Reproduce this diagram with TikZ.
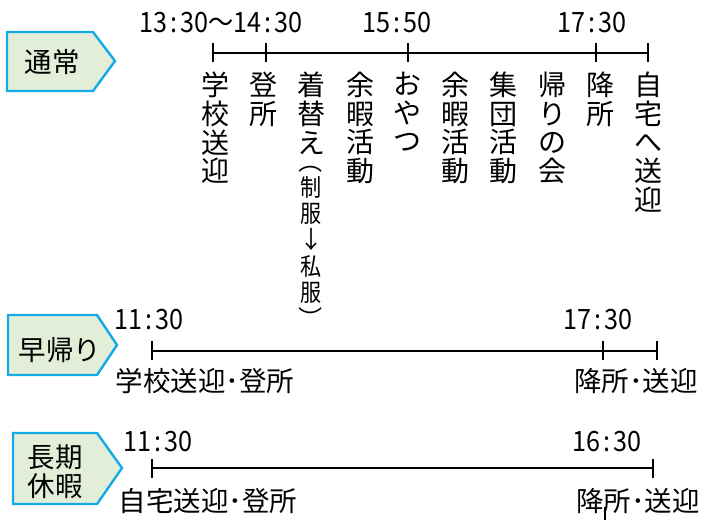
\documentclass[tikz,border=0pt]{standalone}
\usepackage{fontspec}
\setmainfont{Noto Sans CJK JP}
\usepackage{graphicx}
\definecolor{tabfill}{RGB}{226,238,216}
\definecolor{tabline}{RGB}{20,170,230}
\tikzset{
  tabshape/.style={draw=tabline, fill=tabfill, line width=2.4pt, line join=miter},
  tabtxt/.style={inner sep=0pt, font=\fontsize{27.5}{29}\selectfont},
  tline/.style={line width=2.8pt},
  vt/.style={anchor=north, inner sep=0pt, align=center, font=\fontsize{28}{28.6}\selectfont},
  vts/.style={anchor=north, inner sep=0pt, align=center, font=\fontsize{24}{26.2}\selectfont},
  tm/.style={inner sep=0pt, font=\fontsize{28}{30}\selectfont},
  hl/.style={inner sep=0pt, font=\fontsize{27.5}{30}\selectfont},
}
\newcommand{\cl}{\hspace{3.5pt}:\hspace{3.5pt}}
\newcommand{\tms}[1]{\scalebox{0.9}[1]{#1}}
\newcommand{\ns}[1]{\scalebox{0.88}[1]{#1}}
\begin{document}
\begin{tikzpicture}[x=1pt,y=-1pt]
\useasboundingbox (0,0) rectangle (704,520);
% tabs
\draw[tabshape] (7,32) -- (93,32) -- (115,61) -- (93,91) -- (7,91) -- cycle;
\draw[tabshape] (8,315) -- (97,315) -- (117,345) -- (97,375) -- (8,375) -- cycle;
\draw[tabshape] (13,433) -- (97,433) -- (122,468) -- (97,504) -- (13,504) -- cycle;
\node[tabtxt] (n1) at (52,62) {通常};
\node[tabtxt] (n2) at (60,350) {早帰り};
\node[tabtxt, align=center] (n3) at (55,472) {長期\\休暇};
% timeline 1
\coordinate (a1) at (213,53);
\coordinate (a2) at (266,53);
\coordinate (a3) at (408,53);
\coordinate (a4) at (596,53);
\coordinate (a5) at (648,53);
\draw[tline] (a1) -- (a5);
\foreach \p in {a1,a2,a3,a4,a5} \draw[tline] (\p) ++(0,-10) -- ++(0,19);
\node[tm] (t1) at (221,23) {\tms{13\cl30〜14\cl30}};
\node[tm] (t2) at (397,23) {\tms{15\cl50}};
\node[tm] (t3) at (592,23) {\tms{17\cl30}};
\node[vt] (v1) at (215,72) {学\\校\\送\\迎};
\node[vt] (v2) at (263,72) {登\\所};
\node[vt] (v3) at (311,72) {着\\替\\え};
\node[vts] (v3b) at (311,149) {\rotatebox[origin=c]{-90}{（}\\\ns{制}\\\ns{服}\\↓\\\ns{私}\\\ns{服}\\\rotatebox[origin=c]{-90}{）}};
\node[vt] (v4) at (360,72) {余\\暇\\活\\動};
\node[vt] (v5) at (407,72) {お\\や\\つ};
\node[vt] (v6) at (455,72) {余\\暇\\活\\動};
\node[vt] (v7) at (503,72) {集\\団\\活\\動};
\node[vt] (v8) at (552,72) {帰\\り\\の\\会};
\node[vt] (v9) at (600,72) {降\\所};
\node[vt] (v10) at (648,72) {自\\宅\\へ\\送\\迎};
% timeline 2
\coordinate (b1) at (152,351);
\coordinate (b2) at (603,351);
\coordinate (b3) at (657,351);
\draw[tline] (b1) -- (b3);
\foreach \p in {b1,b2,b3} \draw[tline] (\p) ++(0,-10) -- ++(0,19);
\node[tm] (t4) at (149,320) {\tms{11\cl30}};
\node[tm] (t5) at (598,320) {\tms{17\cl30}};
\node[hl] (h1) at (205,381) {学校送迎･登所};
\node[hl] (h2) at (636,381) {降所･送迎};
% timeline 3
\coordinate (c1) at (152,468);
\coordinate (c2) at (653,468);
\draw[tline] (c1) -- (c2);
\foreach \p in {c1,c2} \draw[tline] (\p) ++(0,-9) -- ++(0,19);
\node[tm] (t6) at (158,442) {\tms{11\cl30}};
\node[tm] (t7) at (607,442) {\tms{16\cl30}};
\node[hl] (h3) at (208,501) {自宅送迎･登所};
\node[hl] (h4) at (638,501) {降所･送迎};
\coordinate (s1) at (605,507);
\coordinate (s2) at (605,520);
\draw[line width=1.6pt] (s1) -- (s2);
\end{tikzpicture}
\end{document}
